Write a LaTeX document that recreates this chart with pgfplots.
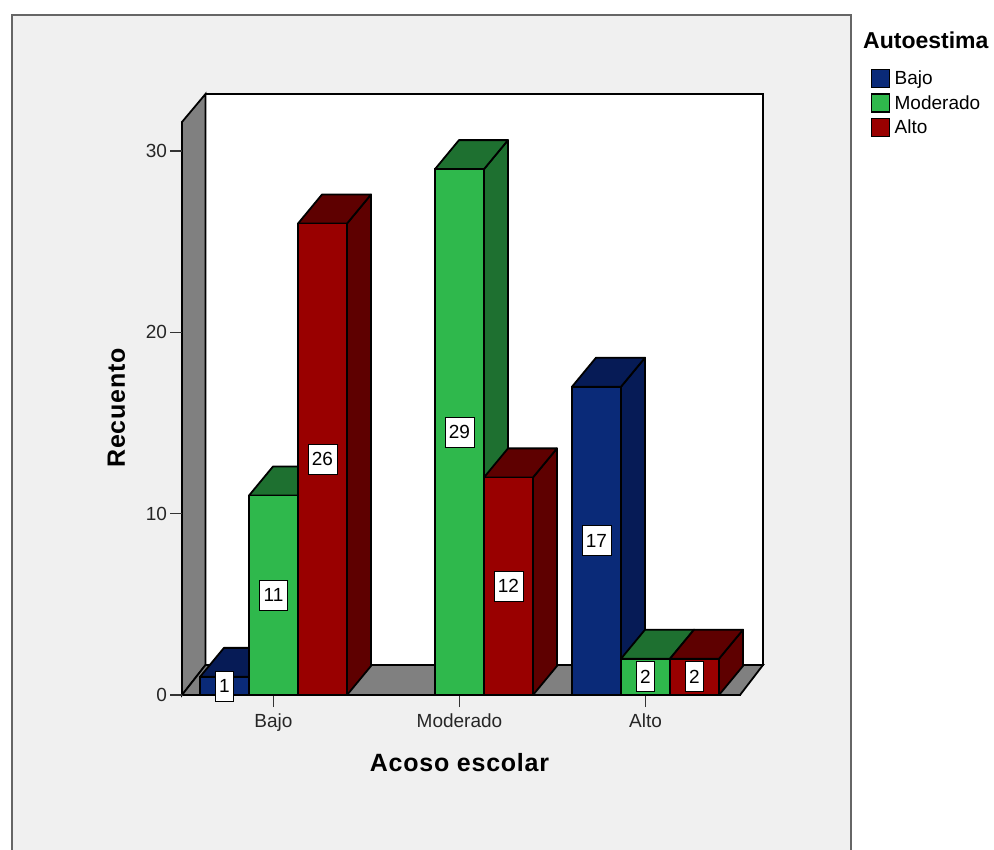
\documentclass[border=0pt]{standalone}
\usepackage{fontspec}
\setmainfont{Liberation Sans}
\usepackage{pgfplots}
\pgfplotsset{compat=1.18}

\definecolor{panel}{HTML}{F0F0F0}
\definecolor{wall}{HTML}{808080}
\definecolor{edge}{HTML}{666666}
\definecolor{blueF}{HTML}{0A2A78}
\definecolor{blueT}{HTML}{061B56}
\definecolor{greenF}{HTML}{2FB84C}
\definecolor{greenT}{HTML}{1E7030}
\definecolor{redF}{HTML}{990000}
\definecolor{redT}{HTML}{5E0000}

% one 3D bar: category, slot (-1,0,1), value, colour prefix
\newcommand{\bardd}[4]{%
  \pgfmathsetmacro{\xa}{#1+#2*0.26344-0.13172}
  \pgfmathsetmacro{\xb}{\xa+0.26344}
  \pgfmathsetmacro{\xc}{#1+#2*0.26344}
  \pgfmathsetmacro{\xd}{\xa+0.129}
  \pgfmathsetmacro{\xe}{\xb+0.129}
  \pgfmathsetmacro{\yt}{#3+1.6}
  \pgfmathsetmacro{\ym}{#3/2}
  \addplot[forget plot,draw=black,line width=1.8pt,fill=#4T,line join=round]
    coordinates {(\xb,0) (\xb,#3) (\xe,\yt) (\xe,1.6)} -- cycle;
  \addplot[forget plot,draw=black,line width=1.8pt,fill=#4T,line join=round]
    coordinates {(\xa,#3) (\xb,#3) (\xe,\yt) (\xd,\yt)} -- cycle;
  \addplot[forget plot,ybar,bar width=49pt,bar shift=#2*49pt,draw=black,line width=1.8pt,fill=#4F]
    coordinates {(#1,#3)};
  \addplot[forget plot,draw=none,mark=none,point meta=explicit symbolic,nodes near coords,
    every node near coord/.append style={anchor=center,draw=black,fill=white,line width=0.8pt,
      inner xsep=4pt,inner ysep=0pt,minimum height=30pt,text=black,font=\fontsize{19}{20}\selectfont}]
    coordinates {(\xc,\ym) [#3]};
}

\begin{document}
\begin{tikzpicture}[x=1pt,y=1pt]
  \path[use as bounding box] (0,0) rectangle (994,-850);
  % panel
  \fill[panel] (12,-850) rectangle (851,-15);
  \draw[edge,line width=2pt] (12,-850) -- (12,-15) -- (851,-15) -- (851,-850);
  % walls and floor
  \filldraw[fill=white,draw=black,line width=1.8pt] (205.5,-94) rectangle (763,-665);
  \filldraw[fill=wall,draw=black,line width=1.8pt] (182,-122) -- (205.5,-94) -- (205.5,-665) -- (182,-695) -- cycle;
  \filldraw[fill=wall,draw=black,line width=1.8pt] (182,-695) -- (205.5,-665) -- (763,-665) -- (740,-695) -- cycle;

  \begin{axis}[
    at={(182.5pt,-695pt)},anchor=south west,
    scale only axis,width=558pt,height=573pt,
    xmin=-0.4892,xmax=2.5108,ymin=0,ymax=31.6,
    axis lines*=left,
    axis line style={-,line width=1.8pt},
    xtick={0,1,2},xticklabels={Bajo,Moderado,Alto},
    ytick={0,10,20,30},
    tick align=outside,major tick length=12pt,
    xtick style={black!80,line width=1.6pt},
    ytick style={black!80,line width=1.6pt},
    tick label style={font=\fontsize{19}{20}\selectfont,text=black!85},
    /pgf/number format/assume math mode=true,
    xticklabel style={yshift=-3pt},
    clip=false,
    xlabel={\addfontfeature{LetterSpace=3}Acoso escolar},
    ylabel={\addfontfeature{LetterSpace=3}Recuento},
    every axis x label/.style={at={(0.4964,-0.1187)},anchor=center,font=\bfseries\fontsize{25}{28}\selectfont},
    every axis y label/.style={at={(-0.1183,0.5009)},anchor=center,rotate=90,font=\bfseries\fontsize{25}{28}\selectfont},
    legend style={at={(1.2330,1.0977)},anchor=north west,draw=none,fill=none,inner sep=0pt,
      font=\fontsize{19}{20}\selectfont,row sep=0pt,
      nodes={inner sep=0pt,minimum height=24.5pt}},
    legend cell align=left,
    legend image code/.code={\draw[#1,line width=1.5pt] (0pt,-9pt) rectangle (18pt,9pt); \path (23pt,0pt);},
  ]
    \bardd{0}{-1}{1}{blue}
    \bardd{0}{0}{11}{green}
    \bardd{0}{1}{26}{red}
    \bardd{1}{0}{29}{green}
    \bardd{1}{1}{12}{red}
    \bardd{2}{-1}{17}{blue}
    \bardd{2}{0}{2}{green}
    \bardd{2}{1}{2}{red}
    \addlegendimage{fill=blueF,draw=black}\addlegendentry{Bajo}
    \addlegendimage{fill=greenF,draw=black}\addlegendentry{Moderado}
    \addlegendimage{fill=redF,draw=black}\addlegendentry{Alto}
  \end{axis}
  \node[anchor=west,font=\bfseries\fontsize{23}{26}\selectfont,inner sep=0pt] at (863,-40) {Autoestima};
\end{tikzpicture}
\end{document}
